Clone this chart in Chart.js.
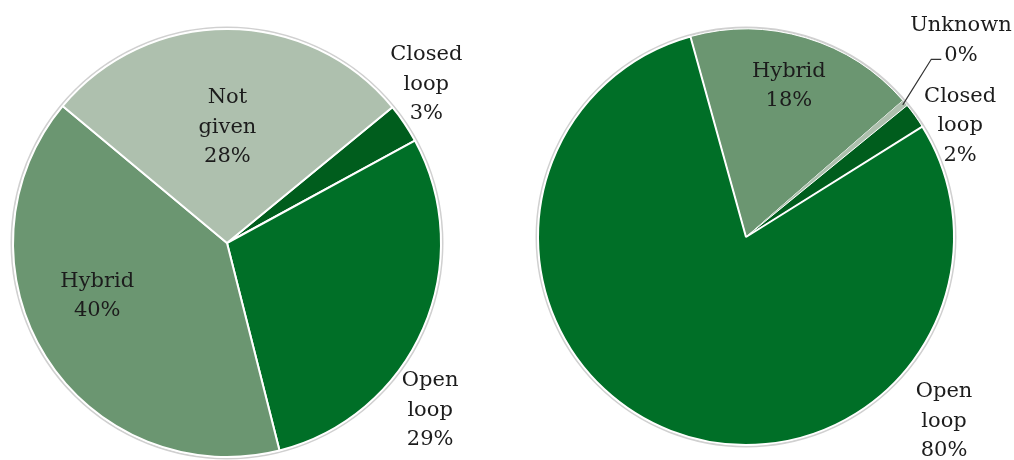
<!DOCTYPE html>
<html>
<head>
<meta charset="utf-8">
<script src="https://cdn.jsdelivr.net/npm/chart.js@4"></script>
<style>
  html,body{margin:0;padding:0;background:#fff;overflow:hidden}
  #wrap{position:relative;width:1014px;height:460px}
  .pie{position:absolute;top:0;width:507px;height:460px}
  #left{left:0}
  #right{left:507px}
</style>
</head>
<body>
<div id="wrap">
  <div class="pie" id="left"><canvas id="chartLeft"></canvas></div>
  <div class="pie" id="right"><canvas id="chartRight"></canvas></div>
</div>
<script>
// left pie
const leftCats   = ['Closed loop', 'Open loop', 'Hybrid', 'Not given'];
const leftValues = [3, 29, 40, 28];
// right pie
const rightCats   = ['Hybrid', 'Unknown', 'Closed loop', 'Open loop'];
const rightValues = [18, 0.5, 2, 80];

const COL = {
  closed: '#005d1d',
  open:   '#006f27',
  hybrid: '#6b9671',
  light:  '#aec0ae'
};

// label placement per slice: [angle shift in deg from slice middle, radius factor]
const leftPlace  = [[-4.5, 1.19], [15.9, 1.23], [10, 0.655], [0, 0.54]];
const rightPlace = [[-0.9, 0.755], [-2.3, 1.40], [8.2, 1.16], [-68.3, 1.30]];
const rightLeader = [false, true, false, false];

const FONT = '21px "DejaVu Serif"';
const LINE_H = 29.5;

const sliceLabels = {
  id: 'sliceLabels',
  beforeDatasetsDraw(chart){
    // soft grey rim round the pie
    const arc = chart.getDatasetMeta(0).data[0];
    if(!arc) return;
    const {x, y, outerRadius} = arc.getProps(['x','y','outerRadius'], true);
    const ctx = chart.ctx;
    ctx.save();
    ctx.beginPath();
    ctx.arc(x, y, outerRadius + 1.5, 0, Math.PI*2);
    ctx.strokeStyle = 'rgba(150,150,150,0.45)';
    ctx.lineWidth = 2;
    ctx.stroke();
    ctx.restore();
  },
  afterDatasetsDraw(chart, args, opts){
    const ctx = chart.ctx;
    const ds = chart.data.datasets[0];
    const total = ds.data.reduce((a,b)=>a+b, 0);
    const meta = chart.getDatasetMeta(0);
    ctx.save();
    ctx.font = FONT;
    ctx.fillStyle = '#1c1c1c';
    ctx.textAlign = 'center';
    ctx.textBaseline = 'middle';
    meta.data.forEach((arc, i)=>{
      const p = arc.getProps(['x','y','startAngle','endAngle','outerRadius'], true);
      const mid = (p.startAngle + p.endAngle)/2;
      const [shift, f] = opts.place[i];
      const a = mid + shift*Math.PI/180;
      const cx = p.x + Math.cos(a)*p.outerRadius*f;
      const cy = p.y + Math.sin(a)*p.outerRadius*f;
      const lines = chart.data.labels[i].split(' ');
      lines.push(Math.round(ds.data[i]/total*100) + '%');
      const y0 = cy - (lines.length-1)*LINE_H/2;
      lines.forEach((t, k)=> ctx.fillText(t, cx, y0 + k*LINE_H));
      if(opts.leader && opts.leader[i]){
        // leader from the slice rim to the percentage line
        const last = lines[lines.length-1];
        const ty = y0 + (lines.length-1)*LINE_H + 4;
        const tx = cx - ctx.measureText(last).width/2 - 3;
        ctx.beginPath();
        ctx.moveTo(p.x + Math.cos(mid)*(p.outerRadius-3), p.y + Math.sin(mid)*(p.outerRadius-3));
        ctx.lineTo(tx - 10, ty);
        ctx.lineTo(tx, ty);
        ctx.strokeStyle = '#333';
        ctx.lineWidth = 1.2;
        ctx.stroke();
      }
    });
    ctx.restore();
  }
};

function makePie(id, cats, values, colors, borders, rotation, radius, padding, place, leader){
  return new Chart(document.getElementById(id), {
    type: 'pie',
    data: {
      labels: cats,
      datasets: [{
        data: values,
        backgroundColor: colors,
        borderColor: '#ffffff',
        borderWidth: borders,
        hoverOffset: 0
      }]
    },
    options: {
      responsive: true,
      maintainAspectRatio: false,
      animation: false,
      rotation: rotation,
      radius: radius,
      layout: { padding: padding },
      events: [],
      plugins: {
        legend: { display: false },
        tooltip: { enabled: false },
        sliceLabels: { place: place, leader: leader }
      }
    },
    plugins: [sliceLabels]
  });
}

makePie('chartLeft', leftCats, leftValues,
  [COL.closed, COL.open, COL.hybrid, COL.light], 2,
  50.6, 214, {left:0, right:53, top:26, bottom:0}, leftPlace, null);

makePie('chartRight', rightCats, rightValues,
  [COL.hybrid, COL.light, COL.closed, COL.open], [1, 0, 1, 2],
  344.5, 208, {left:0, right:29, top:14, bottom:0}, rightPlace, rightLeader);
</script>
</body>
</html>
